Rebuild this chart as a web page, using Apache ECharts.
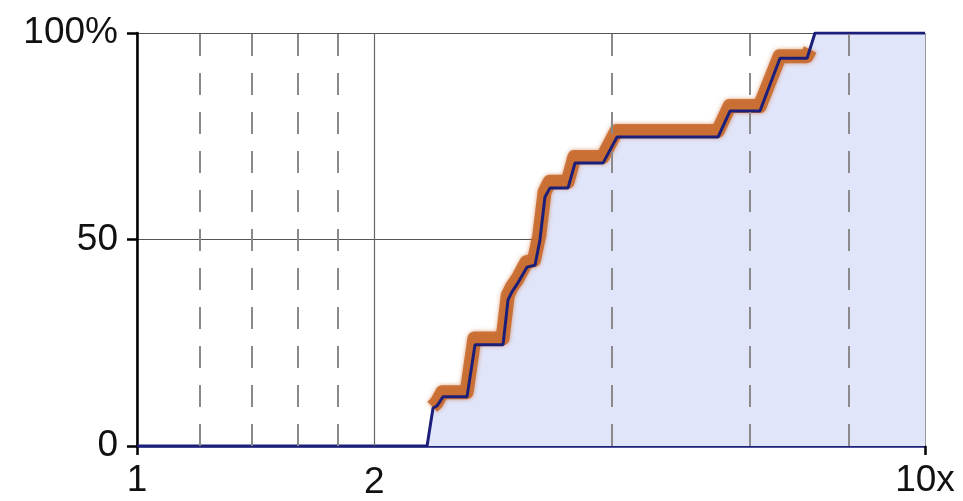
<!DOCTYPE html>
<html>
<head>
<meta charset="utf-8">
<script src="https://cdn.jsdelivr.net/npm/echarts@6/dist/echarts.min.js"></script>
<style>html,body{margin:0;padding:0;background:#fff}#c{width:963px;height:501px}</style>
</head>
<body>
<div id="c"></div>
<script>
// CDF line (navy)
const xVals = [1, 2.334, 2.375, 2.403, 2.445, 2.623, 2.685, 2.914, 2.957, 2.991, 3.044, 3.125, 3.200, 3.246, 3.294, 3.343, 3.524, 3.596, 3.903, 4.066, 5.462, 5.656, 6.174, 6.546, 7.085, 7.251, 10];
const yVals = [0, 0, 9.2, 9.7, 11.9, 11.9, 24.5, 24.5, 35.4, 37.3, 39.5, 43.3, 43.8, 49.9, 60.3, 62.5, 62.5, 68.5, 68.5, 74.8, 74.8, 81.1, 81.1, 93.9, 93.9, 100, 100];
// orange band centre
const bandX = [2.37, 2.40, 2.44, 2.62, 2.68, 2.91, 2.955, 2.99, 3.04, 3.12, 3.19, 3.24, 3.29, 3.34, 3.52, 3.59, 3.90, 4.06, 5.46, 5.65, 6.17, 6.54, 7.08, 7.15];
const bandY = [9.5, 10.5, 13.0, 13.0, 26, 26, 36.5, 38.5, 40.5, 44.5, 45, 51, 61.5, 64, 64, 70, 70, 76.3, 76.3, 82.3, 82.3, 94.4, 94.4, 96];
// grid lines / ticks
const solidX = [2];
const dashedX = [1.2, 1.4, 1.6, 1.8, 4, 6, 8];
const xLabelExtra = ['2'];

const navy = '#1b1f7a';
const orange = '#c8692c';
const fill = '#e1e5f9';

const lineData = xVals.map((x, i) => [x, yVals[i]]);
const bandData = bandX.map((x, i) => [x, bandY[i]]);

const markData = [];
dashedX.forEach(x => {
  markData.push([{coord: [x, 0], lineStyle: {color: '#8a8a8a', width: 2, type: [22, 17]}}, {coord: [x, 100]}]);
  markData.push([{coord: [x, -1.5], lineStyle: {color: '#8a8a8a', width: 2, type: 'solid'}}, {coord: [x, 0]}]);
});
solidX.forEach((x, i) => {
  markData.push([{coord: [x, 0], lineStyle: {color: '#666', width: 1.2, type: 'solid'},
    label: {show: true, position: 'start', formatter: xLabelExtra[i], fontSize: 37, color: '#111', fontFamily: 'Liberation Sans', distance: 18}},
    {coord: [x, 100]}]);
  markData.push([{coord: [x, -2.6], lineStyle: {color: '#000', width: 2.5, type: 'solid'}}, {coord: [x, 2.6]}]);
});

const chart = echarts.init(document.getElementById('c'), null, {renderer: 'canvas'});
chart.setOption({
  animation: false,
  backgroundColor: '#fff',
  grid: {left: 137, right: 38, top: 33, bottom: 55, containLabel: false},
  xAxis: {
    type: 'log', logBase: 10, min: 1, max: 10,
    axisLine: {show: true, lineStyle: {color: navy, width: 2.5}},
    axisTick: {show: true, length: 9, lineStyle: {color: '#000', width: 2.5}},
    axisLabel: {fontSize: 37, color: '#111', fontFamily: 'Liberation Sans', margin: 16,
      formatter: v => (v === 10 ? '10x' : String(v))},
    splitLine: {show: true, lineStyle: {color: '#777', width: 1.5}},
    minorTick: {show: false}
  },
  yAxis: {
    type: 'value', min: 0, max: 100, interval: 50,
    axisLine: {show: true, lineStyle: {color: '#000', width: 2.5}},
    axisTick: {show: true, length: 10, lineStyle: {color: '#000', width: 2.5}},
    axisLabel: {fontSize: 37, color: '#111', fontFamily: 'Liberation Sans', margin: 19,
      formatter: v => (v === 100 ? '100%' : String(v))},
    splitLine: {show: true, lineStyle: {color: '#555', width: 1.2}}
  },
  series: [
    {
      type: 'line', data: lineData, symbol: 'none', z: 1,
      lineStyle: {width: 0, opacity: 0},
      areaStyle: {color: fill, opacity: 1},
      markLine: {silent: true, symbol: ['none', 'none'], label: {show: false}, data: markData, animation: false}
    },
    {
      type: 'line', data: bandData, symbol: 'none', z: 3,
      lineStyle: {color: orange, width: 14, opacity: 0.9, shadowBlur: 4, shadowColor: 'rgba(200,105,44,0.7)', join: 'round', cap: 'butt'}
    },
    {
      type: 'line', data: lineData, symbol: 'none', z: 4,
      lineStyle: {color: navy, width: 3}
    }
  ]
});
</script>
</body>
</html>
